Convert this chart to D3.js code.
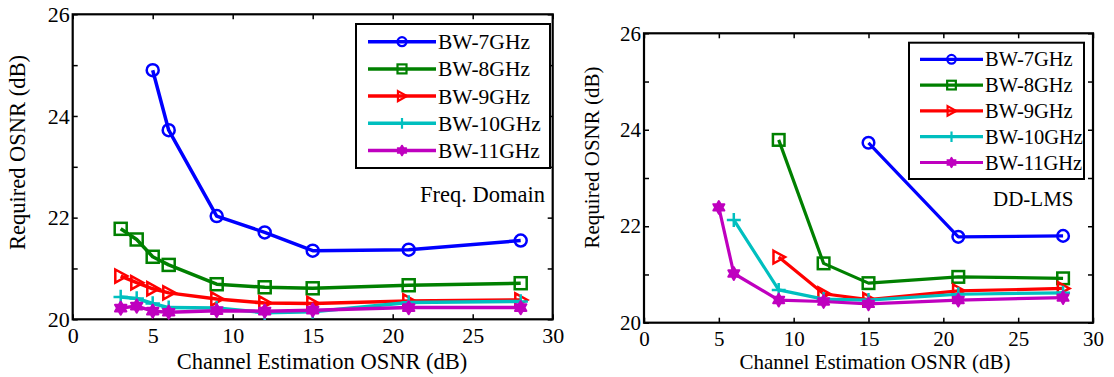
<!DOCTYPE html>
<html>
<head>
<meta charset="utf-8">
<script src="https://cdn.jsdelivr.net/npm/d3@7"></script>
<style>
  body { margin: 0; background: #fff; }
  svg { display: block; }
</style>
</head>
<body>
<svg id="chart" width="1114" height="377"></svg>
<script>
// axis ticks
const xTicks = [0, 5, 10, 15, 20, 25, 30];
const yTicks = [20, 21, 22, 23, 24, 25, 26];

const seriesNames = ['BW-7GHz', 'BW-8GHz', 'BW-9GHz', 'BW-10GHz', 'BW-11GHz'];
const seriesColors = ['#0000ff', '#008000', '#ff0000', '#00bfbf', '#bf00bf'];
const seriesMarkers = ['circle', 'square', 'triangle', 'plus', 'hexagram'];

// Frequency-domain panel
const fdX7 = [5, 6, 9, 12, 15, 21, 28];
const fdY7 = [24.9, 23.72, 22.03, 21.71, 21.35, 21.37, 21.55];
const fdX = [3, 4, 5, 6, 9, 12, 15, 21, 28];
const fdY8 = [21.78, 21.57, 21.23, 21.07, 20.69, 20.63, 20.61, 20.67, 20.71];
const fdY9 = [20.85, 20.72, 20.6, 20.52, 20.4, 20.32, 20.31, 20.36, 20.38];
const fdY10 = [20.44, 20.41, 20.31, 20.23, 20.22, 20.13, 20.15, 20.33, 20.35];
const fdY11 = [20.22, 20.26, 20.16, 20.14, 20.17, 20.16, 20.18, 20.23, 20.23];

// DD-LMS panel
const lmsX7 = [15, 21, 28];
const lmsY7 = [23.73, 21.78, 21.8];
const lmsX8 = [9, 12, 15, 21, 28];
const lmsY8 = [23.79, 21.23, 20.82, 20.95, 20.92];
const lmsX9 = [9, 12, 15, 21, 28];
const lmsY9 = [21.36, 20.6, 20.48, 20.66, 20.71];
const lmsX10 = [6, 9, 12, 15, 21, 28];
const lmsY10 = [22.13, 20.68, 20.49, 20.47, 20.59, 20.62];
const lmsX11 = [5, 6, 9, 12, 15, 21, 28];
const lmsY11 = [22.39, 21.02, 20.47, 20.44, 20.39, 20.47, 20.52];

const FONT = "'Liberation Serif', 'DejaVu Serif', 'Times New Roman', Times, serif";
const svg = d3.select('#chart').style('font-family', FONT);

function hexagramPath(r) {
  const pts = [];
  for (let i = 0; i < 12; i++) {
    const rr = i % 2 === 0 ? r : r / Math.sqrt(3);
    const a = -Math.PI / 2 + i * Math.PI / 6;
    pts.push([rr * Math.cos(a), rr * Math.sin(a)]);
  }
  return 'M' + pts.map(p => p.join(',')).join('L') + 'Z';
}

function addMarker(g, type, s, color, sw) {
  if (type === 'circle') {
    g.append('circle').attr('r', s).attr('fill', 'none')
      .attr('stroke', color).attr('stroke-width', sw);
  } else if (type === 'square') {
    g.append('rect').attr('x', -s).attr('y', -s).attr('width', 2 * s).attr('height', 2 * s)
      .attr('fill', 'none').attr('stroke', color).attr('stroke-width', sw);
  } else if (type === 'triangle') {
    g.append('path').attr('d', `M${-s * 0.9},${-s * 1.1}L${s * 1.1},0L${-s * 0.9},${s * 1.1}Z`)
      .attr('fill', 'none').attr('stroke', color).attr('stroke-width', sw)
      .attr('stroke-linejoin', 'miter');
  } else if (type === 'plus') {
    const a = s * 1.2;
    g.append('path').attr('d', `M${-a},0H${a}M0,${-a}V${a}`)
      .attr('stroke', color).attr('stroke-width', sw);
  } else {
    g.append('path').attr('d', hexagramPath(s * 1.1))
      .attr('fill', color).attr('stroke', color).attr('stroke-width', sw * 0.8)
      .attr('stroke-linejoin', 'round');
  }
}

function drawPanel(p) {
  const x = d3.scaleLinear().domain([0, 30]).range([p.x0, p.x1]);
  const y = d3.scaleLinear().domain([20, 26]).range([p.y1, p.y0]);
  const root = svg.append('g');

  // axes, ticks pointing inward on all four sides
  const styleAxis = (g) => {
    g.attr('font-family', null).attr('font-size', p.tickFont);
    g.selectAll('.domain').remove();
    g.selectAll('.tick line').attr('stroke', '#000').attr('stroke-width', 1.5);
    g.selectAll('.tick text').attr('fill', '#000').style('font-family', FONT);
  };
  root.append('g').attr('transform', `translate(0,${p.y1})`)
    .call(d3.axisBottom(x).tickValues(xTicks).tickSizeInner(-5).tickSizeOuter(0).tickPadding(p.xPad))
    .call(styleAxis);
  root.append('g').attr('transform', `translate(0,${p.y0})`)
    .call(d3.axisTop(x).tickValues(xTicks).tickSizeInner(-5).tickSizeOuter(0).tickFormat(''))
    .call(styleAxis);
  root.append('g').attr('transform', `translate(${p.x0},0)`)
    .call(d3.axisLeft(y).tickValues(yTicks).tickSizeInner(-5).tickSizeOuter(0).tickPadding(3)
      .tickFormat(d => (d % 2 === 0 ? d : '')))
    .call(styleAxis);
  root.append('g').attr('transform', `translate(${p.x1},0)`)
    .call(d3.axisRight(y).tickValues(yTicks).tickSizeInner(-5).tickSizeOuter(0).tickFormat(''))
    .call(styleAxis);

  root.append('rect')
    .attr('x', p.x0).attr('y', p.y0)
    .attr('width', p.x1 - p.x0).attr('height', p.y1 - p.y0)
    .attr('fill', 'none').attr('stroke', '#000').attr('stroke-width', 2.2);

  // axis titles
  root.append('text')
    .attr('x', p.xLabelX).attr('y', p.xLabelY)
    .attr('text-anchor', 'middle')
    .style('font-family', FONT).attr('font-size', p.labelFont)
    .text('Channel Estimation OSNR (dB)');
  root.append('text')
    .attr('transform', `translate(${p.yLabelX},${p.yLabelY}) rotate(-90)`)
    .attr('text-anchor', 'middle')
    .style('font-family', FONT).attr('font-size', p.labelFont)
    .text('Required OSNR (dB)');

  // series
  const line = d3.line().x(d => x(d[0])).y(d => y(d[1]));
  p.series.forEach((s, i) => {
    const pts = s.xs.map((v, k) => [v, s.ys[k]]);
    root.append('path').datum(pts)
      .attr('d', line).attr('fill', 'none')
      .attr('stroke', seriesColors[i]).attr('stroke-width', p.lineWidth)
      .attr('stroke-linejoin', 'round');
    pts.forEach(d => {
      const m = root.append('g').attr('transform', `translate(${x(d[0])},${y(d[1])})`);
      addMarker(m, seriesMarkers[i], p.markerSize, seriesColors[i], 2.5);
    });
  });

  // legend
  const lg = root.append('g');
  lg.append('rect')
    .attr('x', p.legend.x).attr('y', p.legend.y)
    .attr('width', p.legend.w).attr('height', p.legend.h)
    .attr('fill', '#fff').attr('stroke', '#000').attr('stroke-width', 2);
  seriesNames.forEach((name, i) => {
    const ly = p.legend.firstY + i * p.legend.step;
    lg.append('line')
      .attr('x1', p.legend.x + p.legend.lineStart).attr('x2', p.legend.x + p.legend.lineEnd)
      .attr('y1', ly).attr('y2', ly)
      .attr('stroke', seriesColors[i]).attr('stroke-width', p.lineWidth);
    const m = lg.append('g')
      .attr('transform', `translate(${p.legend.x + (p.legend.lineStart + p.legend.lineEnd) / 2},${ly})`);
    addMarker(m, seriesMarkers[i], p.markerSize * 0.75, seriesColors[i], 2.2);
    lg.append('text')
      .attr('x', p.legend.x + p.legend.lineEnd + 2).attr('y', ly).attr('dy', '0.35em')
      .style('font-family', FONT).attr('font-size', p.legendFont)
      .text(name);
  });

  // annotation
  root.append('text')
    .attr('x', p.note.x).attr('y', p.note.y)
    .attr('text-anchor', p.note.anchor)
    .style('font-family', FONT).attr('font-size', p.labelFont)
    .text(p.note.text);
}

drawPanel({
  x0: 72.7, x1: 552.7, y0: 14.3, y1: 319.3,
  tickFont: 22, labelFont: 22.5, legendFont: 21.5, xPad: 8,
  xLabelX: 322, xLabelY: 369, yLabelX: 25, yLabelY: 152.5,
  lineWidth: 3.5, markerSize: 6,
  series: [
    { xs: fdX7, ys: fdY7 },
    { xs: fdX, ys: fdY8 },
    { xs: fdX, ys: fdY9 },
    { xs: fdX, ys: fdY10 },
    { xs: fdX, ys: fdY11 }
  ],
  legend: { x: 356, y: 24, w: 194, h: 144, firstY: 41.7, step: 27.2, lineStart: 12, lineEnd: 80 },
  note: { x: 545, y: 202, anchor: 'end', text: 'Freq. Domain' }
});

drawPanel({
  x0: 644, x1: 1093, y0: 33.3, y1: 322.7,
  tickFont: 21, labelFont: 21, legendFont: 20.5, xPad: 8,
  xLabelX: 875, xLabelY: 369, yLabelX: 599, yLabelY: 157.5,
  lineWidth: 3.2, markerSize: 5.8,
  series: [
    { xs: lmsX7, ys: lmsY7 },
    { xs: lmsX8, ys: lmsY8 },
    { xs: lmsX9, ys: lmsY9 },
    { xs: lmsX10, ys: lmsY10 },
    { xs: lmsX11, ys: lmsY11 }
  ],
  legend: { x: 909, y: 42.7, w: 175, h: 136.3, firstY: 59.3, step: 25.8, lineStart: 11, lineEnd: 74 },
  note: { x: 993, y: 206, anchor: 'start', text: 'DD-LMS' }
});
</script>
</body>
</html>
